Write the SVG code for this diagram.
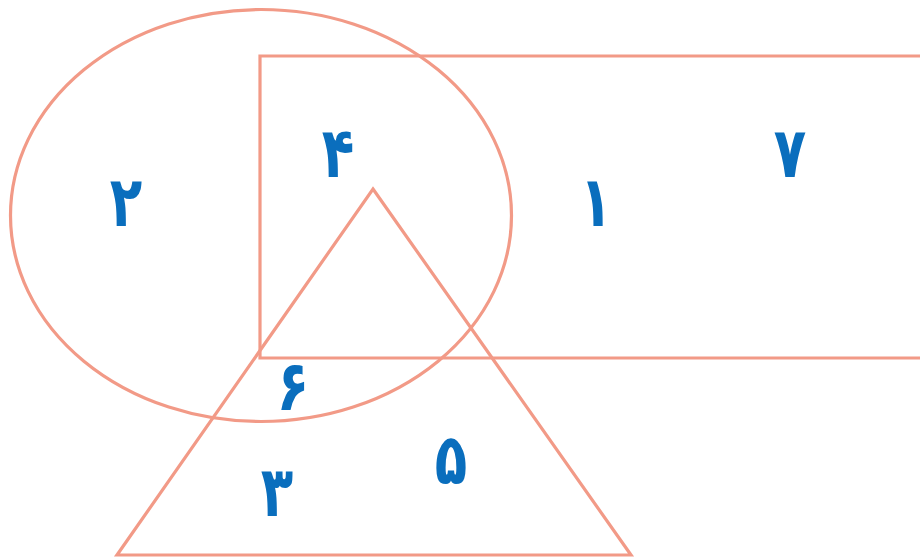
<svg xmlns="http://www.w3.org/2000/svg" width="920" height="559" viewBox="0 0 920 559">
<style>
.shape{fill:none;stroke:#f29a87;stroke-width:3.2}
.num{font-family:"DejaVu Sans",sans-serif;font-weight:bold;font-size:56px;fill:#0a6ebd;text-anchor:middle}
</style>
<rect width="920" height="559" fill="#fff"/>
<g id="ellipse"><ellipse class="shape" cx="261" cy="215.5" rx="250.5" ry="206"/></g>
<g id="rectangle"><path class="shape" d="M924,56 H260 V358 H924"/></g>
<g id="triangle"><polygon class="shape" points="373,189 631,555 117,555"/></g>
<g id="labels">
<text class="num" transform="translate(126,226) scale(0.95,1.25)">۲</text>
<text class="num" transform="translate(338,177) scale(0.95,1.25)">۴</text>
<text class="num" transform="translate(596,226) scale(0.95,1.25)">۱</text>
<text class="num" transform="translate(790,177) scale(0.95,1.25)">۷</text>
<text class="num" transform="translate(293,410) scale(0.95,1.25)">۶</text>
<text class="num" transform="translate(451,484) scale(0.95,1.25)">۵</text>
<text class="num" transform="translate(277,516) scale(0.95,1.25)">۳</text>
</g>
</svg>
